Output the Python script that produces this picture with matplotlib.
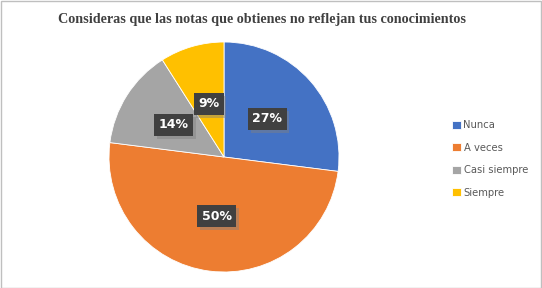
import matplotlib
matplotlib.use("Agg")
import matplotlib.pyplot as plt
from matplotlib.patches import Rectangle
import matplotlib.patheffects as pe
import numpy as np

title = "Consideras que las notas que obtienes no reflejan tus conocimientos"
categories = ["Nunca", "A veces", "Casi siempre", "Siempre"]
values = [27, 50, 14, 9]
labels = ["27%", "50%", "14%", "9%"]
colors = ["#4472C4", "#ED7D31", "#A5A5A5", "#FFC000"]

W, H = 542, 288
fig = plt.figure(figsize=(W / 100, H / 100), dpi=100)
fig.patch.set_facecolor("white")
fig.patches.append(Rectangle((0.5 / W, 0.5 / H), 1 - 1.5 / W, 1 - 1.5 / H, transform=fig.transFigure,
                             fill=False, edgecolor="#BFBFBF", linewidth=1))

cx, cy, r = 224, 157, 115
ax = fig.add_axes([(cx - r) / W, 1 - (cy + r) / H, 2 * r / W, 2 * r / H])
wedges, _ = ax.pie(values, colors=colors, startangle=90, counterclock=False,
                   radius=1, wedgeprops=dict(linewidth=0.6, edgecolor="white"))
ax.set_xlim(-1, 1)
ax.set_ylim(-1, 1)
ax.set_aspect("equal")
ax.axis("off")

total = sum(values)
ang = 90.0
dists = [0.5, 0.52, 0.52, 0.48]
for v, lab, d in zip(values, labels, dists):
    mid = ang - v / total * 360 / 2
    ang -= v / total * 360
    x = d * np.cos(np.radians(mid))
    y = d * np.sin(np.radians(mid))
    t = ax.text(x, y, lab, ha="center", va="center", fontsize=9, fontweight="bold", color="white",
                family="DejaVu Sans",
                bbox=dict(boxstyle="square,pad=0.35", facecolor="#404040", edgecolor="none"))
    t.get_bbox_patch().set_path_effects([
        pe.SimplePatchShadow(offset=(2, -2), shadow_rgbFace="#808080", alpha=0.45),
        pe.Normal()])

fig.text(262 / W, 1 - 19 / H, title, ha="center", va="center", fontsize=10.2, fontweight="bold",
         color="#404040", family="Liberation Serif")

leg = fig.legend(wedges, categories, loc="upper left", bbox_to_anchor=(452 / W, 1 - 120 / H),
                 frameon=False, fontsize=7.2, handlelength=0.85, handleheight=0.85, handletextpad=0.3,
                 labelspacing=1.25, borderaxespad=0, borderpad=0)
for t in leg.get_texts():
    t.set_color("#595959")
    t.set_family("DejaVu Sans")

fig.savefig("out.png", dpi=100)
